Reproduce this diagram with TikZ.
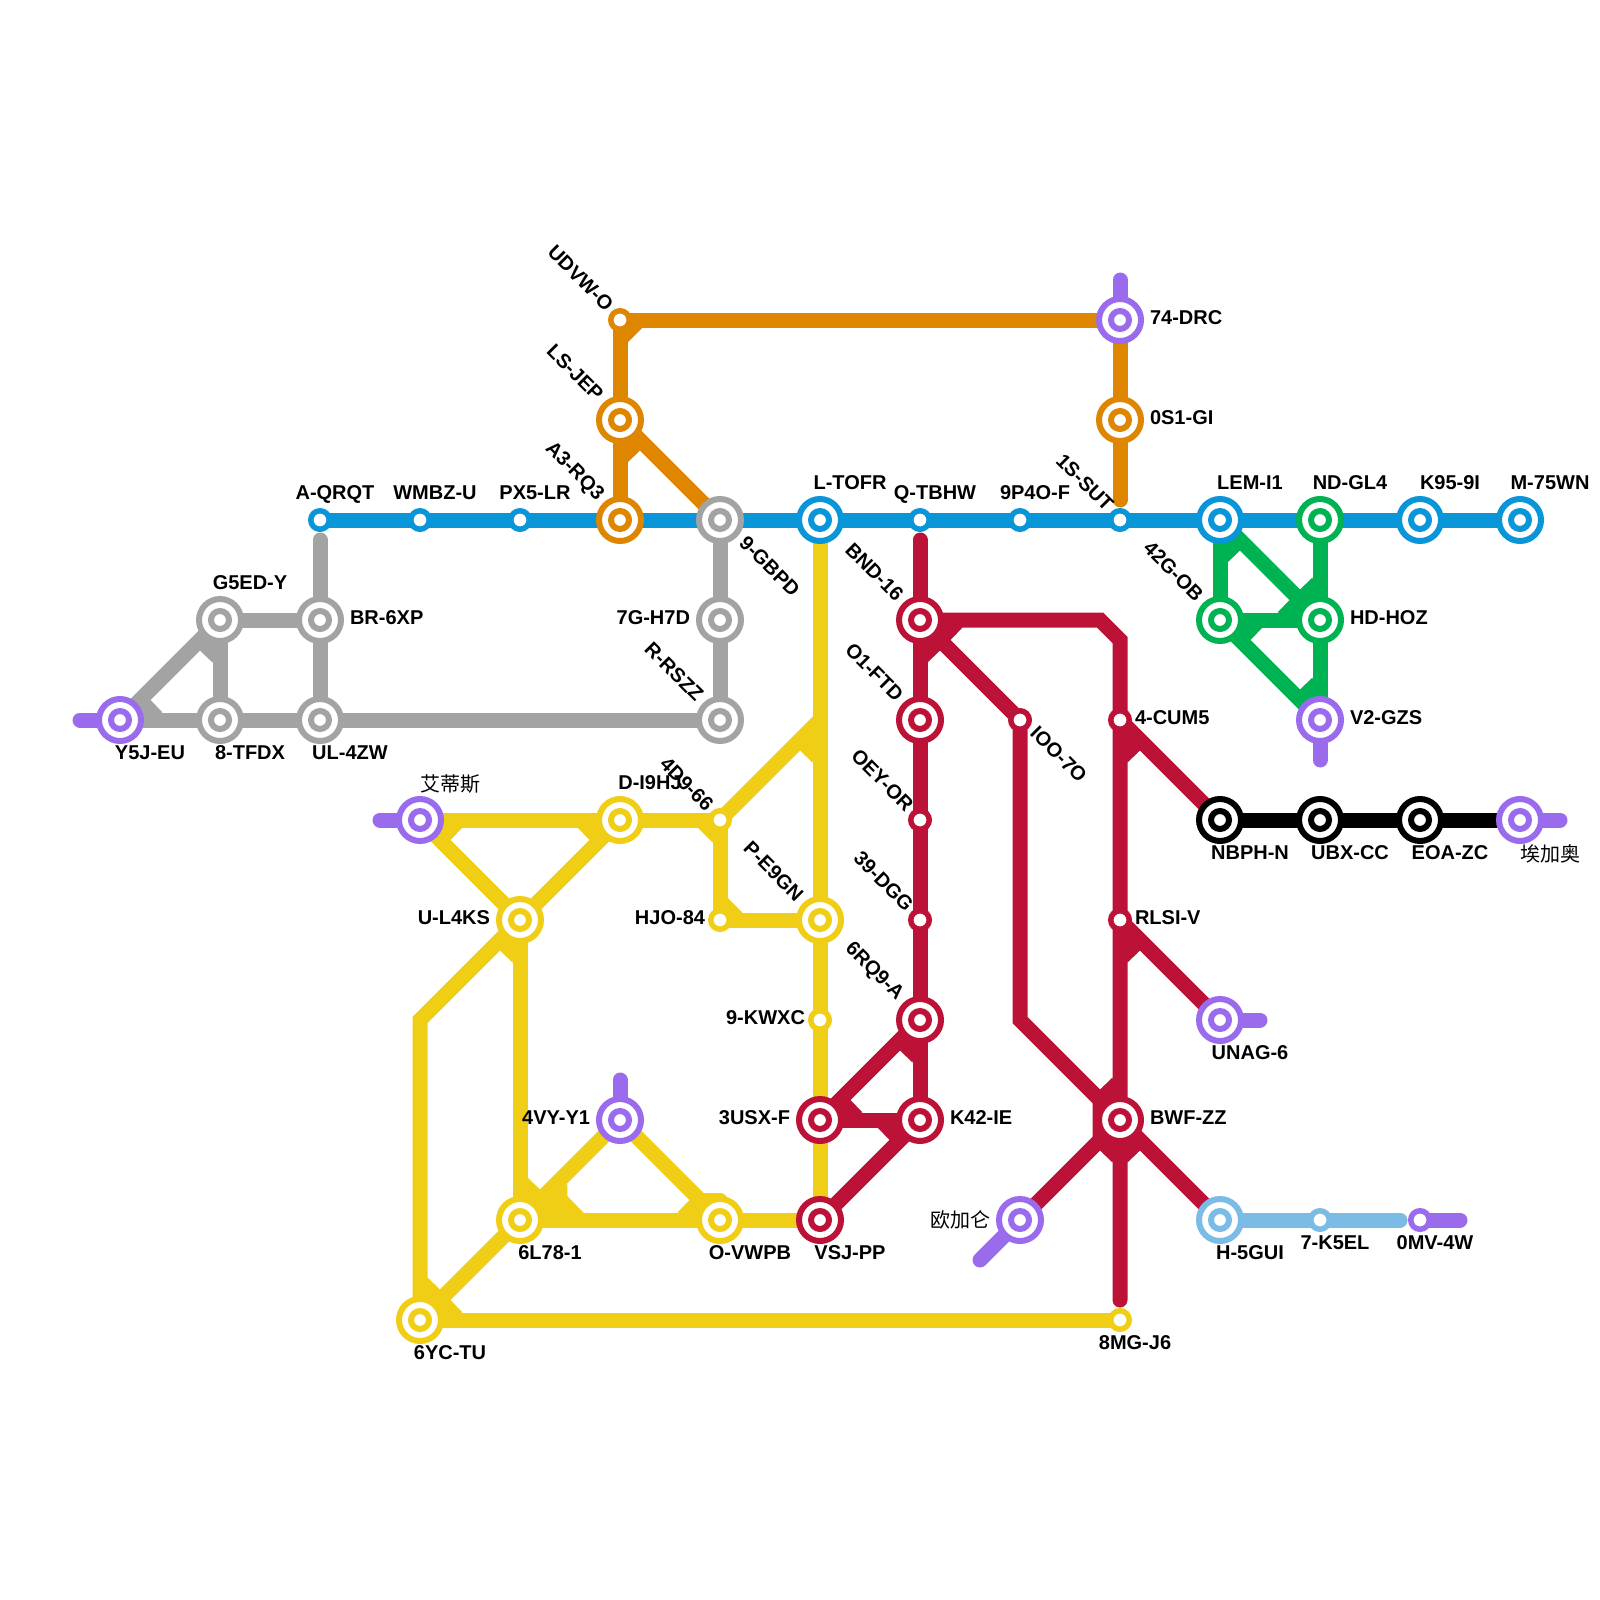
\documentclass[tikz,border=0pt]{standalone}
\usepackage{fontspec}
\setmainfont{Liberation Sans}
\newfontfamily\cjk{Noto Sans CJK SC}
\usetikzlibrary{calc}
\pgfdeclarelayer{bg}
\pgfsetlayers{bg,main}
\definecolor{cblue}{HTML}{0996D8}
\definecolor{cgray}{HTML}{A3A3A3}
\definecolor{corange}{HTML}{DF8600}
\definecolor{cyellow}{HTML}{F0CE15}
\definecolor{cred}{HTML}{BC1237}
\definecolor{cgreen}{HTML}{00B352}
\definecolor{cpurple}{HTML}{9B6BEE}
\definecolor{csky}{HTML}{7ABCE6}
\tikzset{
  bigst/.style={circle,draw=#1,fill=white,line width=3pt,minimum size=21pt,inner sep=0pt,outer sep=0pt,
    path picture={\draw[#1,line width=3pt] (path picture bounding box.center) circle (4.5pt);}},
  smallst/.style={circle,draw=#1,fill=white,line width=2.75pt,minimum size=9.25pt,inner sep=0pt,outer sep=0pt},
  ln/.style={draw=#1,line width=7.5pt,line cap=butt,line join=miter},
  stub/.style={draw=#1,line width=7.5pt,line cap=round,line join=miter},
  txt/.style={inner sep=0pt,outer sep=0pt,font=\fontsize{10pt}{12pt}\selectfont\bfseries,text=black},
  lc/.style={txt,anchor=base,yshift=0.4pt},
  lw/.style={txt,anchor=base west,yshift=0.4pt},
  le/.style={txt,anchor=base east,yshift=0.4pt},
  rw/.style={txt,rotate=-45,anchor=west},
  re/.style={txt,rotate=-45,anchor=east},
  zh/.style={inner sep=0pt,outer sep=0pt,font=\fontsize{10pt}{12pt}\selectfont\cjk,text=black,anchor=center},
}
% wedge between a line and another one 45 degrees from it
\newcommand\wdgv[4]{\fill[#1] (#2.center) -- ($(#2.center)+(#3*7.5,#4*42.5)$) -- ($(#2.center)+(#3*20,#4*30.5)$) -- cycle;}
\newcommand\wdgh[4]{\fill[#1] (#2.center) -- ($(#2.center)+(#3*42.5,#4*7.5)$) -- ($(#2.center)+(#3*30.5,#4*20)$) -- cycle;}
% chamfer between a horizontal and a vertical line
\newcommand\wdgc[4]{\fill[#1] (#2.center) -- ($(#2.center)+(#3*7.5,#4*22.5)$) -- ($(#2.center)+(#3*22.5,#4*7.5)$) -- cycle;}
\newcommand\lab[5]{\node[#1] (l#2) at ($(#2)+(#3,#4)$) {#5};}
\begin{document}
\begin{tikzpicture}[x=0.5pt,y=-0.5pt]
\useasboundingbox (0,0) rectangle (1600,1600);
\begin{pgfonlayer}{bg}
\fill[white] (0,0) rectangle (1600,1600);
\end{pgfonlayer}
% ---- stations
\node[smallst=cblue] (AQRQT) at (320,520) {};
\node[smallst=cblue] (WMBZ) at (420,520) {};
\node[smallst=cblue] (PX5) at (520,520) {};
\node[bigst=corange] (A3) at (620,520) {};
\node[bigst=cgray] (GBPD) at (720,520) {};
\node[bigst=cblue] (LTOFR) at (820,520) {};
\node[smallst=cblue] (QTB) at (920,520) {};
\node[smallst=cblue] (P4O) at (1020,520) {};
\node[smallst=cblue] (SUT) at (1120,520) {};
\node[bigst=cblue] (LEM) at (1220,520) {};
\node[bigst=cgreen] (ND) at (1320,520) {};
\node[bigst=cblue] (K95) at (1420,520) {};
\node[bigst=cblue] (M75) at (1520,520) {};
\node[bigst=cpurple] (Y5J) at (120,720) {};
\node[bigst=cgray] (G5ED) at (220,620) {};
\node[bigst=cgray] (BR6) at (320,620) {};
\node[bigst=cgray] (TFDX) at (220,720) {};
\node[bigst=cgray] (UL4) at (320,720) {};
\node[bigst=cgray] (H7D) at (720,620) {};
\node[bigst=cgray] (RSZZ) at (720,720) {};
\node[smallst=corange] (UDVW) at (620,320) {};
\node[bigst=corange] (LSJ) at (620,420) {};
\node[bigst=cpurple] (DRC) at (1120,320) {};
\node[bigst=corange] (S1G) at (1120,420) {};
\node[bigst=cgreen] (G42) at (1220,620) {};
\node[bigst=cgreen] (HD) at (1320,620) {};
\node[bigst=cpurple] (V2) at (1320,720) {};
\node[bigst=cred] (BND) at (920,620) {};
\node[bigst=cred] (O1) at (920,720) {};
\node[smallst=cred] (OEY) at (920,820) {};
\node[smallst=cred] (DGG) at (920,920) {};
\node[bigst=cred] (RQ9) at (920,1020) {};
\node[bigst=cred] (K42) at (920,1120) {};
\node[bigst=cred] (USX) at (820,1120) {};
\node[bigst=cred] (VSJ) at (820,1220) {};
\node[smallst=cred] (IOO) at (1020,720) {};
\node[smallst=cred] (CUM) at (1120,720) {};
\node[smallst=cred] (RLS) at (1120,920) {};
\node[bigst=cred] (BWF) at (1120,1120) {};
\node[bigst=black] (NBP) at (1220,820) {};
\node[bigst=black] (UBX) at (1320,820) {};
\node[bigst=black] (EOA) at (1420,820) {};
\node[bigst=cpurple] (Aijia) at (1520,820) {};
\node[bigst=cpurple] (UNAG) at (1220,1020) {};
\node[bigst=csky] (H5G) at (1220,1220) {};
\node[smallst=csky] (K5E) at (1320,1220) {};
\node[smallst=cpurple] (MV4) at (1420,1220) {};
\node[bigst=cpurple] (Ouji) at (1020,1220) {};
\node[smallst=cyellow] (MG8) at (1120,1320) {};
\node[bigst=cpurple] (Aidi) at (420,820) {};
\node[bigst=cyellow] (DI9) at (620,820) {};
\node[smallst=cyellow] (D96) at (720,820) {};
\node[smallst=cyellow] (HJO) at (720,920) {};
\node[bigst=cyellow] (PE9) at (820,920) {};
\node[bigst=cyellow] (UL) at (520,920) {};
\node[smallst=cyellow] (KWX) at (820,1020) {};
\node[bigst=cpurple] (VY4) at (620,1120) {};
\node[bigst=cyellow] (L78) at (520,1220) {};
\node[bigst=cyellow] (VWP) at (720,1220) {};
\node[bigst=cyellow] (YC6) at (420,1320) {};
% ---- free ends and bends
\coordinate (eY5J) at (80,720);
\coordinate (eGray) at (320,540);
\coordinate (eDRC) at (1120,280);
\coordinate (eOr) at (1120,500);
\coordinate (eV2) at (1320,760);
\coordinate (eRedT) at (920,540);
\coordinate (eRedB) at (1120,1300);
\coordinate (rb1) at (1100,620);
\coordinate (rb2) at (1120,640);
\coordinate (rb3) at (1020,1020);
\coordinate (eAijia) at (1560,820);
\coordinate (eUNAG) at (1260,1020);
\coordinate (eOuji) at (980,1260);
\coordinate (eSky) at (1400,1220);
\coordinate (eMV) at (1460,1220);
\coordinate (eAidi) at (380,820);
\coordinate (eVY) at (620,1080);
\coordinate (yb1) at (820,720);
\coordinate (yb2) at (420,1020);
\coordinate (yn1) at (700,1200);
\coordinate (yn2) at (720,1200);
% ---- lines
\begin{pgfonlayer}{bg}
% yellow
\draw[ln=cyellow] (LTOFR) -- (VSJ);
\draw[ln=cyellow] (D96) -- (yb1);
\draw[ln=cyellow] (Aidi) -- (D96);
\draw[ln=cyellow] (Aidi) -- (UL);
\draw[ln=cyellow] (DI9) -- (UL);
\draw[ln=cyellow] (D96) -- (HJO);
\draw[ln=cyellow] (HJO) -- (PE9);
\draw[ln=cyellow] (UL) -- (yb2) -- (YC6);
\draw[ln=cyellow] (UL) -- (L78);
\draw[ln=cyellow] (L78) -- (YC6);
\draw[ln=cyellow] (YC6) -- (MG8);
\draw[ln=cyellow] (L78) -- (VY4);
\draw[ln=cyellow] (VY4) -- (VWP);
\draw[ln=cyellow] (L78) -- (VSJ);
\draw[stub=cyellow] (yn1) -- (yn2);
\wdgv{cyellow}{yb1}{-1}{1}
\wdgh{cyellow}{Aidi}{1}{1}
\wdgh{cyellow}{DI9}{-1}{1}
\wdgc{cyellow}{D96}{-1}{1}
\wdgc{cyellow}{HJO}{1}{-1}
\wdgv{cyellow}{UL}{-1}{1}
\wdgv{cyellow}{YC6}{1}{-1}
\wdgh{cyellow}{YC6}{1}{-1}
\wdgv{cyellow}{L78}{1}{-1}
\fill[cyellow] (L78.center) -- ($(L78.center)+(47.3,-36)$) -- ($(L78.center)+(47.3,-24)$) -- ($(L78.center)+(63.3,-7.5)$) -- ($(L78.center)+(63.3,7.5)$) -- ($(L78.center)+(0,7.5)$) -- cycle;
\wdgh{cyellow}{VWP}{-1}{-1}
% blue
\draw[ln=cblue] (AQRQT) -- (M75);
% gray
\draw[stub=cgray] (eGray) -- (BR6);
\draw[ln=cgray] (BR6) -- (UL4);
\draw[ln=cgray] (G5ED) -- (BR6);
\draw[ln=cgray] (Y5J) -- (G5ED);
\draw[ln=cgray] (Y5J) -- (RSZZ);
\draw[ln=cgray] (G5ED) -- (TFDX);
\draw[ln=cgray] (GBPD) -- (RSZZ);
\wdgh{cgray}{Y5J}{1}{-1}
\wdgv{cgray}{G5ED}{-1}{1}
% orange
\draw[ln=corange] (UDVW) -- (DRC);
\draw[ln=corange] (UDVW) -- (A3);
\draw[ln=corange] (LSJ) -- (GBPD);
\draw[stub=corange] (DRC) -- (eOr);
\wdgc{corange}{UDVW}{1}{1}
\wdgv{corange}{LSJ}{1}{1}
% green
\draw[ln=cgreen] (LEM) -- (G42);
\draw[ln=cgreen] (LEM) -- (HD);
\draw[ln=cgreen] (ND) -- (V2);
\draw[ln=cgreen] (G42) -- (HD);
\draw[ln=cgreen] (G42) -- (V2);
\wdgv{cgreen}{LEM}{1}{1}
\wdgv{cgreen}{HD}{-1}{-1}
\wdgh{cgreen}{HD}{-1}{-1}
\wdgh{cgreen}{G42}{1}{1}
\wdgv{cgreen}{V2}{-1}{-1}
% crimson
\draw[stub=cred] (eRedT) -- (K42);
\draw[stub=cred] (BND) -- (rb1) -- (rb2) -- (eRedB);
\draw[ln=cred] (BND) -- (IOO) -- (rb3) -- (BWF);
\draw[ln=cred] (CUM) -- (NBP);
\draw[ln=cred] (RLS) -- (UNAG);
\draw[ln=cred] (RQ9) -- (USX);
\draw[ln=cred] (USX) -- (K42);
\draw[ln=cred] (K42) -- (VSJ);
\draw[ln=cred] (BWF) -- (Ouji);
\draw[ln=cred] (BWF) -- (H5G);
\wdgh{cred}{BND}{1}{1}
\wdgv{cred}{BND}{1}{1}
\wdgv{cred}{CUM}{1}{1}
\wdgv{cred}{RLS}{1}{1}
\wdgv{cred}{RQ9}{-1}{1}
\wdgh{cred}{USX}{1}{-1}
\wdgh{cred}{K42}{-1}{1}
\wdgv{cred}{BWF}{-1}{-1}
\wdgv{cred}{BWF}{-1}{1}
\wdgv{cred}{BWF}{1}{1}
\fill[cred] (BWF.center) -- ($(BWF.center)+(-27.5,-18)$) -- ($(BWF.center)+(-27.5,18)$) -- cycle;
% black
\draw[ln=black] (NBP) -- (Aijia);
% sky
\draw[stub=csky] (H5G) -- (eSky);
% purple stubs
\draw[stub=cpurple] (Y5J) -- (eY5J);
\draw[stub=cpurple] (DRC) -- (eDRC);
\draw[stub=cpurple] (V2) -- (eV2);
\draw[stub=cpurple] (Aijia) -- (eAijia);
\draw[stub=cpurple] (UNAG) -- (eUNAG);
\draw[stub=cpurple] (Ouji) -- (eOuji);
\draw[stub=cpurple] (MV4) -- (eMV);
\draw[stub=cpurple] (Aidi) -- (eAidi);
\draw[stub=cpurple] (VY4) -- (eVY);
\end{pgfonlayer}
% ---- labels
\lab{lc}{AQRQT}{15}{-20}{A-QRQT}
\lab{lc}{WMBZ}{15}{-20}{WMBZ-U}
\lab{lc}{PX5}{15}{-20}{PX5-LR}
\lab{lc}{LTOFR}{30}{-30}{L-TOFR}
\lab{lc}{QTB}{15}{-20}{Q-TBHW}
\lab{lc}{P4O}{15}{-20}{9P4O-F}
\lab{lc}{LEM}{30}{-30}{LEM-I1}
\lab{lc}{ND}{30}{-30}{ND-GL4}
\lab{lc}{K95}{30}{-30}{K95-9I}
\lab{lc}{M75}{30}{-30}{M-75WN}
\lab{lc}{G5ED}{30}{-30}{G5ED-Y}
\lab{lc}{DI9}{30}{-30}{D-I9HJ}
\lab{lc}{Y5J}{30}{40}{Y5J-EU}
\lab{lc}{TFDX}{30}{40}{8-TFDX}
\lab{lc}{UL4}{30}{40}{UL-4ZW}
\lab{lc}{NBP}{30}{40}{NBPH-N}
\lab{lc}{UBX}{30}{40}{UBX-CC}
\lab{lc}{EOA}{30}{40}{EOA-ZC}
\lab{lc}{UNAG}{30}{40}{UNAG-6}
\lab{lc}{H5G}{30}{40}{H-5GUI}
\lab{lc}{VSJ}{30}{40}{VSJ-PP}
\lab{lc}{VWP}{30}{40}{O-VWPB}
\lab{lc}{L78}{30}{40}{6L78-1}
\lab{lc}{YC6}{30}{40}{6YC-TU}
\lab{lc}{K5E}{15}{30}{7-K5EL}
\lab{lc}{MV4}{15}{30}{0MV-4W}
\lab{lc}{MG8}{15}{30}{8MG-J6}
\lab{lw}{BR6}{30}{5}{BR-6XP}
\lab{lw}{DRC}{30}{5}{74-DRC}
\lab{lw}{S1G}{30}{5}{0S1-GI}
\lab{lw}{HD}{30}{5}{HD-HOZ}
\lab{lw}{V2}{30}{5}{V2-GZS}
\lab{lw}{K42}{30}{5}{K42-IE}
\lab{lw}{BWF}{30}{5}{BWF-ZZ}
\lab{lw}{CUM}{15}{5}{4-CUM5}
\lab{lw}{RLS}{15}{5}{RLSI-V}
\lab{le}{H7D}{-30}{5}{7G-H7D}
\lab{le}{UL}{-30}{5}{U-L4KS}
\lab{le}{USX}{-30}{5}{3USX-F}
\lab{le}{VY4}{-30}{5}{4VY-Y1}
\lab{le}{HJO}{-15}{5}{HJO-84}
\lab{le}{KWX}{-15}{5}{9-KWXC}
\lab{re}{UDVW}{-10}{-12.5}{UDVW-O}
\lab{re}{LSJ}{-20}{-22.5}{LS-JEP}
\lab{re}{A3}{-20}{-22.5}{A3-RQ3}
\lab{re}{G42}{-20}{-22.5}{42G-OB}
\lab{re}{RSZZ}{-20}{-22.5}{R-RSZZ}
\lab{re}{BND}{-20}{-22.5}{BND-16}
\lab{re}{O1}{-20}{-22.5}{O1-FTD}
\lab{re}{RQ9}{-20}{-22.5}{6RQ9-A}
\lab{re}{PE9}{-20}{-22.5}{P-E9GN}
\lab{re}{SUT}{-10}{-12.5}{1S-SUT}
\lab{re}{OEY}{-10}{-12.5}{OEY-OR}
\lab{re}{DGG}{-10}{-12.5}{39-DGG}
\lab{re}{D96}{-10}{-12.5}{4D9-66}
\lab{rw}{GBPD}{23}{19.5}{9-GBPD}
\lab{rw}{IOO}{14}{9.5}{IOO-7O}
\lab{zh}{Aidi}{30}{-36}{艾蒂斯}
\lab{zh}{Aijia}{30}{34}{埃加奥}
\node[zh,anchor=east] (lOuji) at ($(Ouji)+(-30,0)$) {欧加仑};
\end{tikzpicture}
\end{document}
